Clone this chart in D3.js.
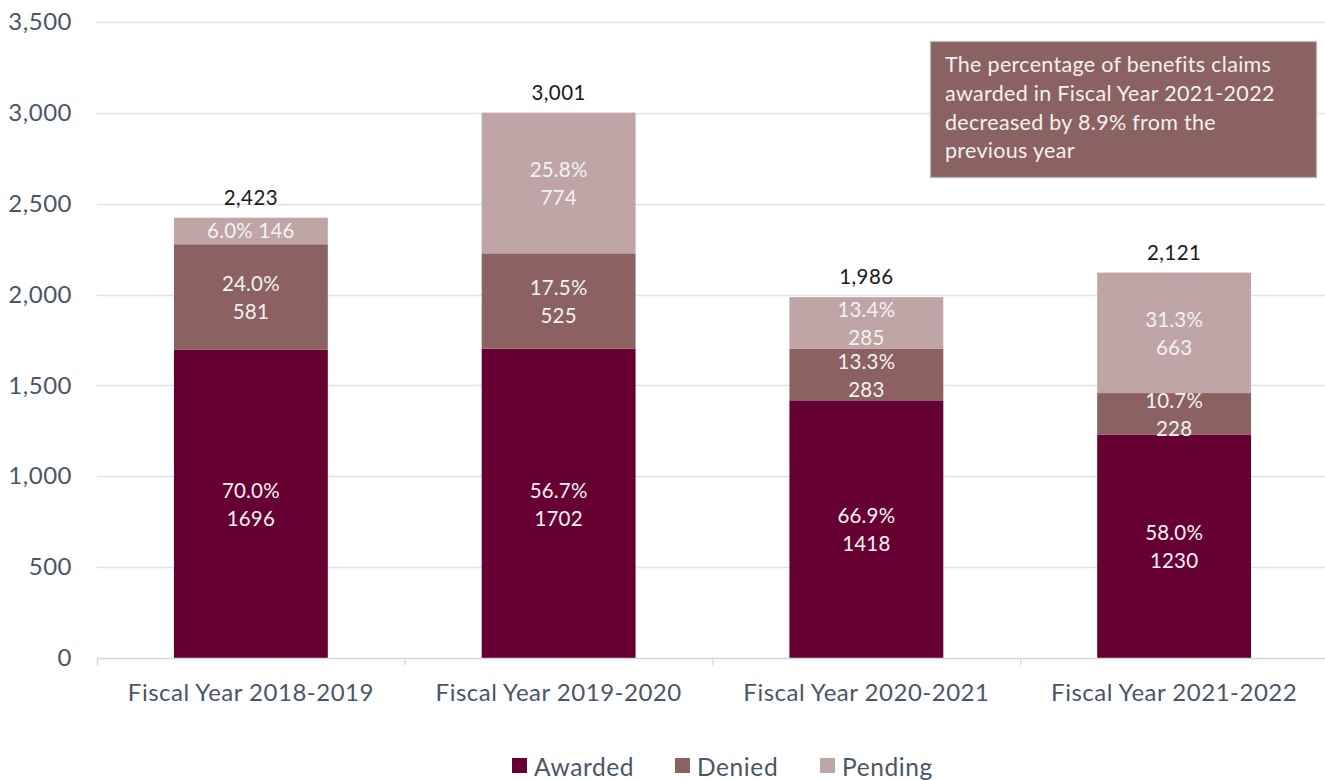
<!DOCTYPE html>
<html>
<head>
<meta charset="utf-8">
<script src="https://cdn.jsdelivr.net/npm/d3@7/dist/d3.min.js"></script>
<style>
  html, body { margin: 0; padding: 0; background: #ffffff; }
  svg { display: block; font-family: "Lato", "Open Sans", sans-serif; }
</style>
</head>
<body>
<svg id="chart" width="1325" height="780"></svg>
<script>
// Benefits claims by fiscal year, stacked by outcome
const categories = ["Fiscal Year 2018-2019", "Fiscal Year 2019-2020", "Fiscal Year 2020-2021", "Fiscal Year 2021-2022"];
const seriesNames = ["Awarded", "Denied", "Pending"];
const awarded = [1696, 1702, 1418, 1230];
const denied = [581, 525, 283, 228];
const pending = [146, 774, 285, 663];
const awardedPct = ["70.0%", "56.7%", "66.9%", "58.0%"];
const deniedPct = ["24.0%", "17.5%", "13.3%", "10.7%"];
const pendingPct = ["6.0%", "25.8%", "13.4%", "31.3%"];
const yTicks = [0, 500, 1000, 1500, 2000, 2500, 3000, 3500];
const noteLines = [
  "The percentage of benefits claims",
  "awarded in Fiscal Year 2021-2022",
  "decreased by 8.9% from the",
  "previous year"
];

const colors = { Awarded: "#660033", Denied: "#8b6161", Pending: "#bfa5a5" };
const axisText = "#4a5668";
const FONT = "Lato, 'Open Sans', sans-serif";

const svg = d3.select("#chart");
const margin = { left: 97, right: 0, top: 22, bottom: 122 };
const W = 1325, H = 780;

const x = d3.scaleBand()
  .domain(categories)
  .range([margin.left, W - margin.right + 3])
  .paddingInner(0.5)
  .paddingOuter(0.25);

const y = d3.scaleLinear()
  .domain([0, 3500])
  .range([H - margin.bottom, margin.top]);

// gridlines
svg.append("g")
  .selectAll("line")
  .data(yTicks.filter(d => d > 0))
  .join("line")
  .attr("x1", margin.left)
  .attr("x2", W)
  .attr("y1", d => Math.round(y(d)) + 0.5)
  .attr("y2", d => Math.round(y(d)) + 0.5)
  .attr("stroke", "#dde2ea")
  .attr("stroke-width", 1.3);

// y tick labels
const yAxis = svg.append("g")
  .attr("transform", `translate(${margin.left},0)`)
  .call(d3.axisLeft(y).tickValues(yTicks).tickSize(0).tickPadding(25).tickFormat(d3.format(",")));
yAxis.select(".domain").remove();
yAxis.selectAll("text")
  .attr("fill", axisText)
  .style("font-size", "24px")
  .style("letter-spacing", "0.5px")
  .style("font-family", FONT);

// stacked data
const rows = categories.map((c, i) => ({
  cat: c, Awarded: awarded[i], Denied: denied[i], Pending: pending[i],
  pct: { Awarded: awardedPct[i], Denied: deniedPct[i], Pending: pendingPct[i] }
}));
const stack = d3.stack().keys(seriesNames)(rows);

const bars = svg.append("g");
stack.forEach(layer => {
  bars.append("g")
    .attr("fill", colors[layer.key])
    .selectAll("rect")
    .data(layer)
    .join("rect")
    .attr("x", d => x(d.data.cat))
    .attr("width", x.bandwidth())
    .attr("y", d => y(d[1]))
    .attr("height", d => y(d[0]) - y(d[1]));
});

// segment labels
const labels = svg.append("g")
  .attr("fill", "#f2f2f2")
  .attr("text-anchor", "middle")
  .style("font-size", "20.5px")
  .style("letter-spacing", "0.2px");
stack.forEach(layer => {
  layer.forEach(d => {
    const cx = x(d.data.cat) + x.bandwidth() / 2;
    const cy = y((d[0] + d[1]) / 2);
    const value = d[1] - d[0];
    const pct = d.data.pct[layer.key];
    const h = y(d[0]) - y(d[1]);
    if (h < 40) {
      labels.append("text")
        .attr("x", cx).attr("y", cy)
        .attr("dy", "0.35em")
        .text(pct + " " + value);
    } else {
      labels.append("text")
        .attr("x", cx).attr("y", cy - 13)
        .attr("dy", "0.35em")
        .text(pct);
      labels.append("text")
        .attr("x", cx).attr("y", cy + 15)
        .attr("dy", "0.35em")
        .text(value);
    }
  });
});

// totals above bars
svg.append("g")
  .attr("text-anchor", "middle")
  .attr("fill", "#1a1a1a")
  .style("font-size", "20.5px")
  .style("letter-spacing", "0.4px")
  .selectAll("text")
  .data(rows)
  .join("text")
  .attr("x", d => x(d.cat) + x.bandwidth() / 2)
  .attr("y", d => y(d.Awarded + d.Denied + d.Pending) - 20)
  .attr("dy", "0.35em")
  .text(d => d3.format(",")(d.Awarded + d.Denied + d.Pending));

// category axis
const xAxis = svg.append("g")
  .attr("transform", `translate(0,${y(0)})`)
  .call(d3.axisBottom(x).tickSize(0).tickPadding(26));
xAxis.select(".domain").attr("stroke", "#d0d7e0").attr("stroke-width", 1.3)
  .attr("d", `M${margin.left},0.5H${W}`);
xAxis.selectAll("text")
  .attr("fill", axisText)
  .style("font-size", "24px")
  .style("letter-spacing", "0.5px")
  .style("font-family", FONT);
// category boundary ticks
const step = x.step();
svg.append("g")
  .selectAll("line")
  .data(d3.range(categories.length + 1))
  .join("line")
  .attr("x1", i => margin.left + i * step + 0.5)
  .attr("x2", i => margin.left + i * step + 0.5)
  .attr("y1", y(0))
  .attr("y2", y(0) + 7)
  .attr("stroke", "#d0d7e0")
  .attr("stroke-width", 1.3);

// legend
const legendX = [512, 675, 820];
const legend = svg.append("g");
seriesNames.forEach((name, i) => {
  legend.append("rect")
    .attr("x", legendX[i]).attr("y", 758)
    .attr("width", 15).attr("height", 15)
    .attr("fill", colors[name]);
  legend.append("text")
    .attr("x", legendX[i] + 22).attr("y", 776)
    .attr("fill", axisText)
    .style("font-size", "24.5px")
    .style("letter-spacing", "0.6px")
    .text(name);
});

// annotation box
const note = svg.append("g");
note.append("rect")
  .attr("x", 930.5).attr("y", 41.5)
  .attr("width", 386).attr("height", 136)
  .attr("fill", "#8b6262")
  .attr("stroke", "#b7b7b7")
  .attr("stroke-width", 1.3);
note.selectAll("text")
  .data(noteLines)
  .join("text")
  .attr("x", 945)
  .attr("y", (d, i) => 72 + i * 28.8)
  .attr("fill", "#f4f0f0")
  .style("font-size", "21.5px")
  .style("letter-spacing", "0.3px")
  .text(d => d);
</script>
</body>
</html>
